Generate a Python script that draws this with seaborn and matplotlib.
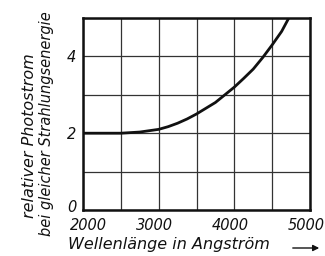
import matplotlib
matplotlib.use("Agg")
import matplotlib.pyplot as plt
import matplotlib.transforms as mtransforms
import seaborn as sns
import pandas as pd

wavelength = [2000, 2250, 2500, 2750, 3000, 3125, 3250, 3375, 3500, 3625, 3750, 3875,
              4000, 4125, 4250, 4375, 4500, 4625, 4720]
photocurrent = [2.0, 2.0, 2.0, 2.03, 2.1, 2.17, 2.26, 2.37, 2.5, 2.65, 2.8, 3.0,
                3.2, 3.43, 3.67, 3.97, 4.3, 4.65, 5.0]
x_ticks = [2000, 3000, 4000, 5000]
y_ticks = [0, 2, 4]

sns.set_theme(style="white")
plt.rcParams['font.family'] = ['DejaVu Sans']

df = pd.DataFrame({"w": wavelength, "p": photocurrent})

fig = plt.figure(figsize=(3.25, 2.56), dpi=100)
ax = fig.add_axes([83/325, 1-210/256, (310-83)/325, (210-18)/256])

sns.lineplot(data=df, x="w", y="p", ax=ax, color="#111111", linewidth=2.0)

ax.set_xlim(2000, 5000)
ax.set_ylim(0, 5)
ax.set_xticks(x_ticks)
ax.set_xticks([2500, 3500, 4500], minor=True)
ax.set_yticks(y_ticks)
ax.set_yticks([1, 3, 5], minor=True)
ax.grid(True, which="both", color="#333333", linewidth=0.9)
ax.set_xticklabels([str(v) for v in x_ticks], fontsize=10.5, style="italic")
ax.set_yticklabels([str(v) for v in y_ticks], fontsize=10.5, style="italic")
ax.tick_params(which="both", length=0, colors="#111111")
ax.tick_params(axis="x", pad=6)
ax.tick_params(axis="y", pad=5)
ax.set_xlabel("")
ax.set_ylabel("")
for s in ax.spines.values():
    s.set_color("#111111")
    s.set_linewidth(1.8)

for i, lbl in enumerate(ax.get_xticklabels()):
    dx = 5 if i == 0 else -4
    lbl.set_transform(lbl.get_transform() + mtransforms.ScaledTranslation(dx/100, 0, fig.dpi_scale_trans))
y0 = ax.get_yticklabels()[0]
y0.set_transform(y0.get_transform() + mtransforms.ScaledTranslation(0, 4/100, fig.dpi_scale_trans))

fig.text(169/325, 1-245/256, "Wellenlänge in Angström", ha="center", va="center",
         fontsize=11.5, style="italic", color="#111111")
fig.text(30/325, 1-136/256, "relativer Photostrom",
         rotation=90, ha="center", va="center", fontsize=11.5, style="italic",
         color="#111111")
fig.text(47/325, 1-124/256, "bei gleicher Strahlungsenergie",
         rotation=90, ha="center", va="center", fontsize=10.5, style="italic",
         color="#111111")
fig.add_artist(matplotlib.patches.FancyArrowPatch((290/325, 1-248/256), (322/325, 1-248/256),
               transform=fig.transFigure, arrowstyle="-|>", mutation_scale=9,
               color="#111111", linewidth=1.0))

fig.savefig("out.png", dpi=100)
